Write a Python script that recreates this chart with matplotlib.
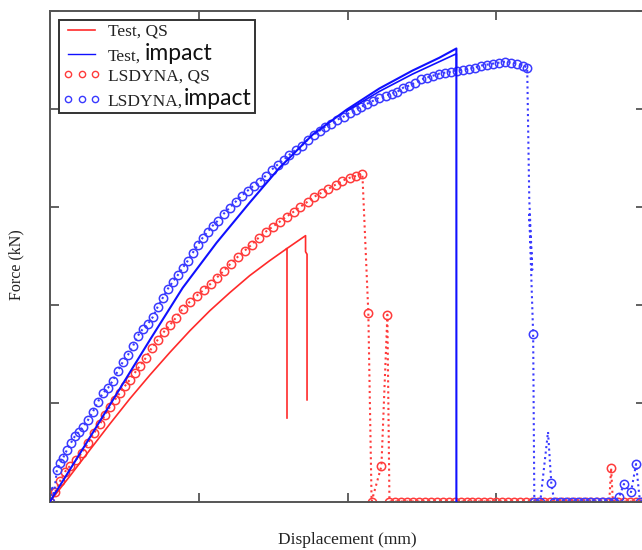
import matplotlib
matplotlib.use("Agg")
import matplotlib.pyplot as plt
from matplotlib.lines import Line2D
from matplotlib.offsetbox import TextArea, HPacker

plt.rcParams['font.family'] = ['Liberation Serif', 'DejaVu Serif']

# ---------------- data (Displacement mm, Force kN) ----------------
# Test, QS : two specimens sharing the same loading path
test_qs_x = [0.00, 0.67, 1.34, 2.01, 2.68, 3.36, 4.03, 4.70, 5.37, 6.04, 6.71, 7.38, 7.95]
test_qs_y = [0.00, 1.30, 2.63, 3.95, 5.23, 6.45, 7.60, 8.70, 9.72, 10.64, 11.51, 12.27, 12.88]
test_qs1_fail_x = [7.95, 7.95]
test_qs1_fail_y = [12.88, 4.26]
test_qs2_tail_x = [7.95, 8.59, 8.59, 8.64, 8.64]
test_qs2_tail_y = [12.88, 13.55, 12.73, 12.60, 5.18]

# Test, impact : two specimens
test_imp1_x = [0.00, 1.11, 2.25, 3.36, 4.46, 5.60, 6.71, 7.72, 8.83, 9.97, 11.07, 12.18, 13.09, 13.66, 13.66]
test_imp1_y = [0.00, 2.70, 5.51, 8.24, 10.89, 13.19, 15.23, 17.02, 18.70, 19.97, 21.05, 21.96, 22.62, 23.09, 0.00]
test_imp2_x = [9.97, 11.07, 12.18, 13.09, 13.66, 13.66]
test_imp2_y = [19.90, 20.90, 21.78, 22.42, 22.82, 22.00]

# LSDYNA, QS
lsd_qs_x = [0.00, 0.17, 0.34, 0.50, 0.67, 0.87, 1.07, 1.28, 1.48, 1.68, 1.85, 2.01, 2.18, 2.35, 2.52,
            2.68, 2.85, 3.02, 3.22, 3.42, 3.62, 3.83, 4.03, 4.23, 4.46, 4.70, 4.93, 5.17, 5.40, 5.60,
            5.84, 6.07, 6.31, 6.54, 6.78, 7.01, 7.25, 7.48, 7.72, 7.95, 8.19, 8.42, 8.66, 8.89, 9.13,
            9.36, 9.60, 9.83, 10.07, 10.30, 10.50,
            10.70, 10.81, 11.14, 11.34, 11.41,
            11.6, 11.8, 12.0, 12.2, 12.4, 12.6, 12.8, 13.0, 13.2, 13.4, 13.6, 13.8, 14.0, 14.2, 14.4,
            14.6, 14.8, 15.0, 15.2, 15.4, 15.6, 15.8, 16.0, 16.2, 16.4, 16.6, 16.8, 17.0, 17.2, 17.4,
            17.6, 17.8, 18.0, 18.2, 18.4, 18.6, 18.8, 18.86, 18.92, 19.1, 19.3, 19.5, 19.7, 19.9]
lsd_qs_y = [0.00, 0.48, 1.05, 1.51, 1.81, 2.12, 2.47, 2.98, 3.49, 3.95, 4.41, 4.82, 5.18, 5.54, 5.89,
            6.20, 6.56, 6.91, 7.32, 7.83, 8.24, 8.65, 9.00, 9.36, 9.82, 10.18, 10.49, 10.79, 11.10, 11.40,
            11.76, 12.12, 12.47, 12.78, 13.09, 13.44, 13.75, 14.00, 14.26, 14.52, 14.77, 15.03, 15.28, 15.54, 15.74,
            15.94, 16.15, 16.35, 16.50, 16.60, 16.71,
            9.62, 0.00, 1.81, 9.52, 0.00,
            0.0, 0.0, 0.0, 0.0, 0.0, 0.0, 0.0, 0.0, 0.0, 0.0, 0.0, 0.0, 0.0, 0.0, 0.0,
            0.0, 0.0, 0.0, 0.0, 0.0, 0.0, 0.0, 0.0, 0.0, 0.0, 0.0, 0.0, 0.0, 0.0, 0.0,
            0.0, 0.0, 0.0, 0.0, 0.0, 0.0, 0.0, 1.71, 0.0, 0.0, 0.0, 0.0, 0.0, 0.0]

# LSDYNA, impact
lsd_imp_x = [0.00, 0.07, 0.13, 0.23, 0.34, 0.44, 0.57, 0.70, 0.84, 0.97, 1.11, 1.28, 1.44, 1.61, 1.78,
             1.95, 2.11, 2.28, 2.45, 2.62, 2.79, 2.95, 3.12, 3.29, 3.46, 3.62, 3.79, 3.96, 4.13, 4.30,
             4.46, 4.63, 4.80, 4.97, 5.13, 5.30, 5.47, 5.64, 5.84, 6.04, 6.24, 6.44, 6.64, 6.85, 7.05,
             7.25, 7.45, 7.65, 7.85, 8.05, 8.26, 8.46, 8.66, 8.86, 9.06, 9.26, 9.46, 9.66, 9.87, 10.07,
             10.27, 10.47, 10.67, 10.87, 11.07, 11.28, 11.48, 11.68, 11.88, 12.08, 12.28, 12.48, 12.68, 12.89, 13.09,
             13.29, 13.49, 13.69, 13.89, 14.09, 14.30, 14.50, 14.70, 14.90, 15.10, 15.30, 15.50, 15.70, 15.91, 16.04,
             16.11, 16.21, 16.11, 16.24, 16.28, 16.48, 16.74, 16.85, 16.95,
             17.15, 17.35, 17.55, 17.75, 17.95, 18.15, 18.36, 18.56, 18.76, 18.96,
             19.13, 19.29, 19.53, 19.70, 19.83, 20.0]
lsd_imp_y = [0.00, 0.79, 0.28, 1.61, 1.96, 2.22, 2.63, 2.98, 3.34, 3.55, 3.80, 4.16, 4.57, 5.08, 5.54,
             5.79, 6.15, 6.66, 7.12, 7.47, 7.93, 8.44, 8.80, 9.05, 9.41, 9.92, 10.38, 10.84, 11.20, 11.55,
             11.91, 12.27, 12.68, 13.09, 13.44, 13.75, 14.06, 14.31, 14.67, 14.97, 15.28, 15.59, 15.84, 16.10, 16.30,
             16.61, 16.91, 17.17, 17.42, 17.68, 17.93, 18.14, 18.44, 18.70, 18.90, 19.11, 19.26, 19.46, 19.62, 19.82,
             19.97, 20.13, 20.28, 20.43, 20.59, 20.69, 20.79, 20.89, 21.10, 21.20, 21.35, 21.51, 21.61, 21.71, 21.81,
             21.86, 21.91, 21.96, 22.01, 22.06, 22.12, 22.22, 22.27, 22.32, 22.37, 22.42, 22.37, 22.32, 22.22, 22.12,
             15.38, 11.81, 14.62, 8.55, 0.00, 0.00, 3.55, 0.94, 0.00,
             0.0, 0.0, 0.0, 0.0, 0.0, 0.0, 0.0, 0.0, 0.0, 0.0,
             0.23, 0.89, 0.48, 1.91, 0.00, 0.00]
lsd_imp_unmarked = [1, 2, 90, 91, 92, 96]

labels = ['Test, QS', 'Test,', 'LSDYNA, QS', 'LSDYNA,']
label_suffix = ['', 'impact', '', 'impact']
xticks = [0, 5, 10, 15, 20]
yticks = [0, 5, 10, 15, 20, 25]

# ---------------- figure ----------------
W, H = 642, 550
fig = plt.figure(figsize=(W / 100, H / 100), dpi=100)
ax = fig.add_axes([50 / W, 1 - 501.5 / H, 595 / W, 490.5 / H])
ax.set_xlim(0, 20)
ax.set_ylim(0, 25)

RED = '#ff2a2a'
BLUE = '#1010ff'
MRED = '#ff3b3b'
MBLUE = '#3a3aff'

# LSDYNA curves (dotted line + open circles)
ax.plot(lsd_qs_x, lsd_qs_y, ls=':', lw=1.5, color=MRED, marker='o', ms=6.0, mfc='none',
        mew=1.1, mec=MRED, zorder=2)
imp_marks = [i for i in range(len(lsd_imp_x)) if i not in lsd_imp_unmarked]
ax.plot(lsd_imp_x, lsd_imp_y, ls=':', lw=1.5, color=MBLUE, marker='o', ms=6.0, mfc='none',
        mew=1.1, mec=MBLUE, markevery=imp_marks, zorder=2)

# Test curves
ax.plot(test_qs_x, test_qs_y, color=RED, lw=1.2, zorder=3)
ax.plot(test_qs1_fail_x, test_qs1_fail_y, color=RED, lw=1.2, zorder=3)
ax.plot(test_qs2_tail_x, test_qs2_tail_y, color=RED, lw=1.2, zorder=3)
ax.plot(test_imp1_x, test_imp1_y, color=BLUE, lw=1.5, zorder=3)
ax.plot(test_imp2_x, test_imp2_y, color=BLUE, lw=1.2, zorder=3)

# axes styling
ax.set_xticks(xticks)
ax.set_yticks(yticks)
ax.tick_params(direction='in', length=6.5, width=1.3, color='#555555', top=True, right=True,
               labelbottom=False, labelleft=False)
for s in ax.spines.values():
    s.set_color('#555555')
    s.set_linewidth(1.4)

# legend
handles = [
    Line2D([], [], color=RED, lw=1.2),
    Line2D([], [], color=BLUE, lw=1.0),
    Line2D([], [], ls='none', marker='o', ms=4.5, mfc='none', mec=MRED, mew=1.0),
    Line2D([], [], ls='none', marker='o', ms=4.5, mfc='none', mec=MBLUE, mew=1.0),
]
leg = ax.legend(handles, labels, loc='upper left', bbox_to_anchor=(9 / 595, (501.5 - 20) / 490.5),
                borderaxespad=0, numpoints=3, handlelength=2.2, handletextpad=0.4,
                labelspacing=0.22, borderpad=0.2, fancybox=False, framealpha=1,
                edgecolor='#333333', prop={'family': 'Liberation Serif', 'size': 12.5})
leg.get_frame().set_linewidth(1.4)
for t in leg.get_texts():
    t.set_color('#222222')

# append the sans-serif word after the serif part of the label
suffix_gap = [0, 3, 0, 0.5]
try:
    rows = leg._legend_handle_box.get_children()[0].get_children()
    for row, suffix, gap in zip(rows, label_suffix, suffix_gap):
        if suffix:
            kids = row.get_children()
            ta = TextArea(suffix, textprops=dict(family='Lato', size=16.5, color='#111111'))
            inner = HPacker(children=[kids[1], ta], pad=0, sep=gap, align='baseline')
            inner.set_figure(fig)
            ta.set_figure(fig)
            kids[1] = inner
except Exception:
    pass

# axis labels
fig.text(16 / W, 1 - 265 / H, 'Force (kN)', rotation=90, ha='center', va='center',
         fontsize=11.5, color='#222222')
fig.text(347 / W, 1 - 540 / H, 'Displacement (mm)', ha='center', va='center',
         fontsize=12.5, color='#222222')

fig.savefig('out.png', dpi=100)
